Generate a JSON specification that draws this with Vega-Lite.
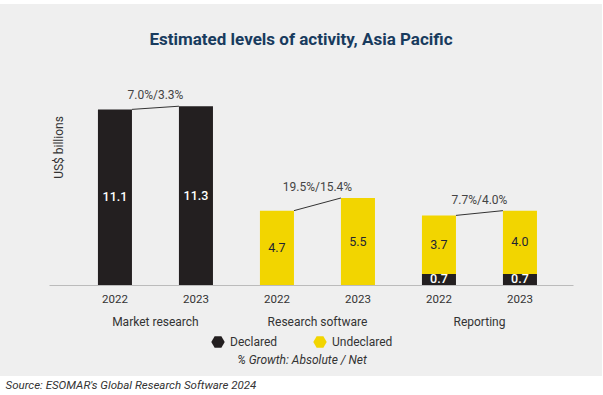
{
  "$schema": "https://vega.github.io/schema/vega-lite/v6.json",
  "width": 602,
  "height": 372,
  "autosize": "none",
  "padding": {"left": 0, "top": 4, "right": 1, "bottom": 19},
  "background": "#ffffff",
  "config": {
    "font": "Roboto",
    "view": {"fill": "#efefef", "stroke": null}
  },
  "title": {
    "text": "Estimated levels of activity, Asia Pacific",
    "anchor": "middle",
    "frame": "group",
    "offset": -58,
    "baseline": "alphabetic",
    "fontSize": 17,
    "fontWeight": "bold",
    "color": "#183b5e",
    "font": "Roboto"
  },
  "datasets": {
    "bars": [
      {"cat": "Market research", "year": "2022", "key": "MR2022", "type": "Declared", "value": 11.1},
      {"cat": "Market research", "year": "2023", "key": "MR2023", "type": "Declared", "value": 11.3},
      {"cat": "Research software", "year": "2022", "key": "RS2022", "type": "Undeclared", "value": 4.7},
      {"cat": "Research software", "year": "2023", "key": "RS2023", "type": "Undeclared", "value": 5.5},
      {"cat": "Reporting", "year": "2022", "key": "RP2022", "type": "Declared", "value": 0.7},
      {"cat": "Reporting", "year": "2022", "key": "RP2022", "type": "Undeclared", "value": 3.7},
      {"cat": "Reporting", "year": "2023", "key": "RP2023", "type": "Declared", "value": 0.7},
      {"cat": "Reporting", "year": "2023", "key": "RP2023", "type": "Undeclared", "value": 4.0}
    ],
    "growth": [
      {"cat": "Market research", "from": "MR2022", "to": "MR2023", "start": 11.1, "end": 11.3, "label": "7.0%/3.3%"},
      {"cat": "Research software", "from": "RS2022", "to": "RS2023", "start": 4.7, "end": 5.5, "label": "19.5%/15.4%"},
      {"cat": "Reporting", "from": "RP2022", "to": "RP2023", "start": 4.4, "end": 4.7, "label": "7.7%/4.0%"}
    ]
  },
  "layer": [
    {
      "layer": [
        {
          "data": {"name": "bars"},
          "mark": {"type": "bar"},
          "encoding": {
            "x": {
              "field": "key",
              "type": "nominal",
              "sort": null,
              "scale": {
                "type": "band",
                "domain": ["MR2022", "MR2023", "RS2022", "RS2023", "RP2022", "RP2023"],
                "range": [49, 573],
                "paddingInner": 0.58,
                "paddingOuter": 0.5245,
                "align": 0.576
              },
              "axis": {
                "orient": "bottom",
                "offset": -91,
                "labelExpr": "slice(datum.value, 2)",
                "ticks": false,
                "tickSize": 0,
                "labelPadding": 14,
                "labelBaseline": "middle",
                "labelAngle": 0,
                "labelFontSize": 11.5,
                "labelColor": "#333333",
                "domainColor": "#bbbbbb",
                "domainWidth": 1,
                "grid": false,
                "title": null
              }
            },
            "y": {
              "field": "value",
              "type": "quantitative",
              "stack": "zero",
              "scale": {"domain": [-5.75, 17.76], "nice": false, "zero": false},
              "axis": {
                "title": "US$ billions",
                "labels": false,
                "ticks": false,
                "domain": false,
                "grid": false,
                "titleX": 58,
                "titleY": 143,
                "titleAngle": -90,
                "titleAlign": "center",
                "titleBaseline": "middle",
                "titleFontWeight": "normal",
                "titleFontSize": 12,
                "titleColor": "#333333"
              }
            },
            "color": {
              "field": "type",
              "type": "nominal",
              "scale": {"domain": ["Declared", "Undeclared"], "range": ["#231f20", "#f2d500"]},
              "legend": {
                "orient": "none",
                "legendX": 211,
                "legendY": 331,
                "direction": "horizontal",
                "title": "% Growth: Absolute / Net",
                "titleOrient": "bottom",
                "titleAnchor": "middle",
                "titleFontStyle": "italic",
                "titleFontWeight": "normal",
                "titleFontSize": 12,
                "titleColor": "#333333",
                "titlePadding": 7,
                "labelFontSize": 12,
                "labelColor": "#333333",
                "labelOffset": 5,
                "columnPadding": 35,
                "symbolType": "M-1,0L-0.5,-0.866L0.5,-0.866L1,0L0.5,0.866L-0.5,0.866Z",
                "symbolSize": 180,
                "symbolStrokeWidth": 0
              }
            },
            "order": {"field": "type", "sort": "ascending"}
          }
        },
        {
          "data": {"name": "bars"},
          "mark": {"type": "text", "fontSize": 12.5, "fontWeight": 500, "baseline": "middle", "align": "center"},
          "encoding": {
            "x": {"field": "key", "type": "nominal", "sort": null},
            "y": {"field": "value", "type": "quantitative", "stack": "zero", "bandPosition": 0.5},
            "detail": {"field": "type"},
            "order": {"field": "type", "sort": "ascending"},
            "text": {"field": "value", "type": "quantitative", "format": ".1f"},
            "color": {"condition": {"test": "datum.type === 'Declared'", "value": "#ffffff"}, "value": "#1e2533"},
            "opacity": {"condition": {"test": "datum.type === 'Declared'", "value": 1}, "value": 0}
          }
        },
        {
          "data": {"name": "bars"},
          "mark": {"type": "text", "fontSize": 12.5, "fontWeight": "normal", "baseline": "middle", "align": "center"},
          "encoding": {
            "x": {"field": "key", "type": "nominal", "sort": null},
            "y": {"field": "value", "type": "quantitative", "stack": "zero", "bandPosition": 0.5},
            "detail": {"field": "type"},
            "order": {"field": "type", "sort": "ascending"},
            "text": {"field": "value", "type": "quantitative", "format": ".1f"},
            "color": {"value": "#1e2533"},
            "opacity": {"condition": {"test": "datum.type === 'Declared'", "value": 0}, "value": 1}
          }
        },
        {
          "data": {"name": "growth"},
          "mark": {"type": "rule", "color": "#333333", "strokeWidth": 1},
          "encoding": {
            "x": {"field": "from", "type": "nominal", "sort": null, "bandPosition": 1},
            "x2": {"field": "to", "bandPosition": 0},
            "y": {"field": "start", "type": "quantitative"},
            "y2": {"field": "end"}
          }
        }
      ]
    },
    {
      "data": {"name": "growth"},
      "mark": {"type": "text", "fontSize": 12, "color": "#444444", "baseline": "middle", "align": "center", "dy": -11},
      "encoding": {
        "x": {
          "field": "cat",
          "type": "nominal",
          "sort": null,
          "scale": {
            "type": "band",
            "domain": ["Market research", "Research software", "Reporting"],
            "range": [49, 573],
            "paddingInner": 0,
            "paddingOuter": 0.117,
            "align": 0.67
          },
          "axis": {
            "orient": "bottom",
            "offset": -91,
            "domain": false,
            "ticks": false,
            "tickSize": 0,
            "grid": false,
            "labelPadding": 36,
            "labelBaseline": "middle",
            "labelAngle": 0,
            "labelFontSize": 12,
            "labelColor": "#333333",
            "title": "Source: ESOMAR's Global Research Software 2024",
            "titleX": 5,
            "titleY": 100,
            "titleAlign": "left",
            "titleAnchor": null,
            "titleBaseline": "middle",
            "titleFontStyle": "italic",
            "titleFontWeight": "normal",
            "titleFontSize": 11.5,
            "titleColor": "#333333"
          }
        },
        "y": {"field": "end", "type": "quantitative"},
        "text": {"field": "label"}
      }
    }
  ],
  "resolve": {"scale": {"x": "independent"}}
}
